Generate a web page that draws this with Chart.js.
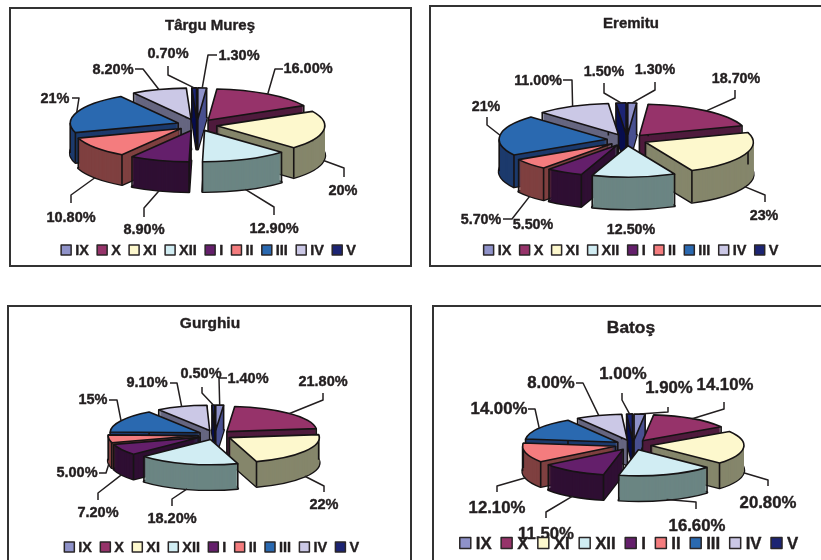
<!DOCTYPE html>
<html>
<head>
<meta charset="utf-8">
<title>Seasonal pies</title>
<script src="https://cdn.jsdelivr.net/npm/chart.js@4/dist/chart.umd.min.js"></script>
<style>
  html, body { margin: 0; background: #fff; overflow: hidden; }
  #page { position: relative; width: 821px; height: 560px; overflow: hidden; }
  canvas { position: absolute; left: 0; top: 0; }
  .frame { position: absolute; box-sizing: border-box; border: 2px solid #333; }
</style>
</head>
<body>
<div id="page">
  <div class="frame" style="left:9px;top:7px;width:403px;height:260px"></div>
  <div class="frame" style="left:429px;top:5px;width:400px;height:262px"></div>
  <div class="frame" style="left:7px;top:305px;width:405px;height:270px"></div>
  <div class="frame" style="left:432px;top:305px;width:400px;height:270px"></div>
  <canvas id="targu" width="821" height="560"></canvas>
  <canvas id="eremitu" width="821" height="560"></canvas>
  <canvas id="gurghiu" width="821" height="560"></canvas>
  <canvas id="batos" width="821" height="560"></canvas>
</div>
<script>
const months = ["IX", "X", "XI", "XII", "I", "II", "III", "IV", "V"];

const targuValues = [1.3, 16, 20, 12.9, 8.9, 10.8, 21, 8.2, 0.7];
const targuLabels = ["1.30%", "16.00%", "20%", "12.90%", "8.90%", "10.80%", "21%", "8.20%", "0.70%"];

const eremituValues = [1.3, 18.7, 23, 12.5, 5.5, 5.7, 21, 11, 1.5];
const eremituLabels = ["1.30%", "18.70%", "23%", "12.50%", "5.50%", "5.70%", "21%", "11.00%", "1.50%"];

const gurghiuValues = [1.4, 21.8, 22, 18.2, 7.2, 5, 15, 9.1, 0.5];
const gurghiuLabels = ["1.40%", "21.80%", "22%", "18.20%", "7.20%", "5.00%", "15%", "9.10%", "0.50%"];

const batosValues = [1.9, 14.1, 20.8, 16.6, 11.5, 12.1, 14, 8, 1];
const batosLabels = ["1.90%", "14.10%", "20.80%", "16.60%", "11.50%", "12.10%", "14.00%", "8.00%", "1.00%"];

const topColors = ["#8f92c9", "#96336a", "#fdf8cd", "#d1edf3", "#641f6b", "#f47c7e", "#2a69b0", "#cbc8e6", "#1c2473"];
const wallColors = ["#4a5190", "#4f1b3d", "#85866b", "#6b8583", "#2f0f33", "#7f4040", "#1c3a6c", "#666680", "#0a1050"];
const ink = "#231f20";
const fontFamily = '"Liberation Sans", Arial, sans-serif';

// where each slice's label goes: [elbowX, elbowY, endX, endY, textX, textY], elbow null = no leader
const targuCallouts = [
  [208, 55, 217, 55, 239, 55], [275, 69, 283, 69, 308, 68], [344, 168, 344, 177, 343, 190],
  [274, 207, 274, 215, 274, 228], [144, 208, 144, 217, 144, 229], [71, 195, 71, 203, 71, 217],
  [79, 98, 72, 98, 55, 98], [143, 69, 135, 69, 113, 69], [168, 75, 168, 66, 168, 53]
];
const eremituCallouts = [
  [655, 90, 655, 82, 655, 69], [735, 98, 735, 90, 736, 78], [765, 195, 765, 202, 764, 215],
  [null, 0, 0, 0, 631, 229], [null, 0, 0, 0, 533, 224], [512, 219, 503, 219, 481, 219],
  [487, 125, 487, 117, 486, 106], [572, 80, 563, 80, 538, 80], [604, 93, 604, 83, 604, 71]
];
const gurghiuCallouts = [
  [219, 378, 227, 378, 248, 378], [323, 400, 323, 393, 323, 381], [324, 486, 324, 492, 324, 504],
  [172, 499, 172, 506, 172, 518], [98, 493, 98, 500, 98, 512], [106, 473, 99, 473, 77, 472],
  [117, 400, 109, 400, 93, 399], [177, 383, 170, 383, 147, 382], [202, 393, 202, 387, 201, 373]
];
const batosCallouts = [
  [668, 412, 668, 407, 669, 387], [724, 409, 724, 402, 725, 384], [768, 480, 768, 486, 768, 502],
  [696, 502, 696, 509, 697, 525], [546, 512, 546, 518, 546, 533], [497, 486, 497, 492, 497, 507],
  [535, 409, 528, 409, 499, 408], [583, 383, 576, 383, 551, 382], [622, 400, 622, 393, 623, 373]
];

function shadedOptions(arc, color) {
  return Object.assign({}, arc.options, { backgroundColor: color, borderWidth: 0 });
}

function sectorPath(ctx, x, y, r, tilt, a0, a1) {
  ctx.beginPath();
  ctx.moveTo(x, y);
  ctx.ellipse(x, y, r, r * tilt, 0, a0, a1);
  ctx.closePath();
}

// a thin stroke on top of the fill makes the small bold text sit heavier
function heavyText(ctx, text, x, y) {
  ctx.save();
  ctx.lineWidth = 0.4;
  ctx.strokeStyle = ctx.fillStyle;
  ctx.strokeText(text, x, y);
  ctx.fillText(text, x, y);
  ctx.restore();
}

// pie drawn lying flat: the library's arcs are squashed and stacked to get thickness
function drawSlice(ctx, arc, i, p) {
  const r = arc.outerRadius;
  const a0 = arc.startAngle, a1 = arc.endAngle, mid = (a0 + a1) / 2;
  const ox = p.cx + p.explode * Math.cos(mid);
  const oy = p.cy + p.explode * p.tilt * Math.sin(mid);
  const own = arc.options;

  const stamp = function(dy) {
    ctx.save();
    ctx.translate(ox, oy + dy);
    ctx.scale(1, p.tilt);
    ctx.translate(-arc.x, -arc.y);
    arc.draw(ctx);
    ctx.restore();
  };

  ctx.lineWidth = 1.6;
  ctx.strokeStyle = "#161314";
  ctx.lineJoin = "round";

  ctx.save();
  ctx.lineWidth = 2.6;
  sectorPath(ctx, ox, oy + p.depth, r, p.tilt, a0, a1);
  ctx.stroke();
  ctx.restore();

  arc.options = shadedOptions(arc, wallColors[i]);
  for (let d = p.depth; d >= 1; d--) stamp(d);
  arc.options = own;

  // vertical edges at the corners and at the widest points of the rim
  const edges = [a0, a1, 2 * Math.PI, Math.PI, 3 * Math.PI].filter(a => a >= a0 && a <= a1);
  ctx.beginPath();
  ctx.moveTo(ox, oy);
  ctx.lineTo(ox, oy + p.depth);
  edges.forEach(a => {
    const ex = ox + r * Math.cos(a), ey = oy + r * p.tilt * Math.sin(a);
    ctx.moveTo(ex, ey);
    ctx.lineTo(ex, ey + p.depth);
  });
  ctx.stroke();

  stamp(0);
  sectorPath(ctx, ox, oy, r, p.tilt, a0, a1);
  ctx.stroke();
}

function drawCallouts(ctx, arcs, p) {
  ctx.lineWidth = 1.5;
  ctx.strokeStyle = ink;
  ctx.fillStyle = ink;
  ctx.font = "bold " + p.labelSize + "px " + fontFamily;
  ctx.textAlign = "center";
  ctx.textBaseline = "middle";
  arcs.forEach((arc, i) => {
    const c = p.callouts[i];
    if (c[0] !== null) {
      const mid = (arc.startAngle + arc.endAngle) / 2;
      const sin = Math.sin(mid);
      const ox = p.cx + p.explode * Math.cos(mid);
      const oy = p.cy + p.explode * p.tilt * sin;
      ctx.beginPath();
      ctx.moveTo(ox + arc.outerRadius * Math.cos(mid),
        oy + arc.outerRadius * p.tilt * sin + (sin > 0.05 ? p.depth : 0));
      ctx.lineTo(c[0], c[1]);
      ctx.lineTo(c[2], c[3]);
      ctx.stroke();
    }
    heavyText(ctx, p.texts[i], c[4], c[5] + 1);
  });
}

function drawLegend(ctx, p) {
  const lg = p.legend;
  ctx.font = "bold " + lg.size + "px " + fontFamily;
  ctx.textAlign = "left";
  ctx.textBaseline = "middle";
  const widths = months.map(m => lg.box + lg.gap + ctx.measureText(m).width);
  const total = widths.reduce((a, b) => a + b, 0) + lg.spacing * (months.length - 1);
  let x = lg.cx - total / 2;
  months.forEach((m, i) => {
    ctx.fillStyle = topColors[i];
    ctx.strokeStyle = "#2a2627";
    ctx.lineWidth = 1.5;
    ctx.fillRect(x, lg.y - lg.box / 2, lg.box, lg.box);
    ctx.strokeRect(x, lg.y - lg.box / 2, lg.box, lg.box);
    ctx.fillStyle = ink;
    heavyText(ctx, m, x + lg.box + lg.gap, lg.y + 1);
    x += widths[i] + lg.spacing;
  });
}

const flatPie = {
  id: "flatPie",
  beforeDatasetDraw(chart) {
    const p = chart.options.plugins.flatPie;
    const ctx = chart.ctx;
    const arcs = chart.getDatasetMeta(0).data;
    const backToFront = arcs.map((arc, i) => [arc, i]).sort((a, b) =>
      Math.sin((a[0].startAngle + a[0].endAngle) / 2) - Math.sin((b[0].startAngle + b[0].endAngle) / 2));
    backToFront.forEach(e => drawSlice(ctx, e[0], e[1], p));
    return false;
  },
  afterDraw(chart) {
    const p = chart.options.plugins.flatPie;
    const ctx = chart.ctx;
    ctx.save();
    drawCallouts(ctx, chart.getDatasetMeta(0).data, p);
    ctx.fillStyle = ink;
    ctx.font = "bold " + p.titleSize + "px " + fontFamily;
    ctx.textAlign = "center";
    ctx.textBaseline = "middle";
    heavyText(ctx, p.title, p.titleX, p.titleY);
    drawLegend(ctx, p);
    ctx.restore();
  }
};

function pie(id, values, settings) {
  new Chart(document.getElementById(id), {
    type: "pie",
    data: {
      labels: months,
      datasets: [{
        data: values,
        backgroundColor: topColors,
        borderWidth: 0,
        radius: settings.radius
      }]
    },
    options: {
      responsive: false,
      animation: false,
      plugins: {
        legend: { display: false },
        tooltip: { enabled: false },
        flatPie: settings
      }
    },
    plugins: [flatPie]
  });
}

pie("targu", targuValues, {
  title: "Târgu Mureş", titleX: 210, titleY: 26, titleSize: 15,
  cx: 197, cy: 125, radius: 108, explode: 20, tilt: 0.29, depth: 30,
  texts: targuLabels, callouts: targuCallouts, labelSize: 14.5,
  legend: { cx: 208.5, y: 250, size: 14.5, box: 10, gap: 4, spacing: 8.3 }
});
pie("eremitu", eremituValues, {
  title: "Eremitu", titleX: 631, titleY: 24, titleSize: 15,
  cx: 627, cy: 140, radius: 108, explode: 20, tilt: 0.29, depth: 32,
  texts: eremituLabels, callouts: eremituCallouts, labelSize: 14.3,
  legend: { cx: 631, y: 250, size: 14.5, box: 10, gap: 4, spacing: 8.3 }
});
pie("gurghiu", gurghiuValues, {
  title: "Gurghiu", titleX: 210, titleY: 324, titleSize: 15.5,
  cx: 215, cy: 435, radius: 90, explode: 17, tilt: 0.28, depth: 25,
  texts: gurghiuLabels, callouts: gurghiuCallouts, labelSize: 14.5,
  legend: { cx: 211.7, y: 547, size: 14.5, box: 10, gap: 4, spacing: 8.3 }
});
pie("batos", batosValues, {
  title: "Batoş", titleX: 631, titleY: 328, titleSize: 17.4,
  cx: 633, cy: 445, radius: 93, explode: 18, tilt: 0.28, depth: 25,
  texts: batosLabels, callouts: batosCallouts, labelSize: 16.8,
  legend: { cx: 629, y: 543, size: 16.8, box: 11, gap: 5, spacing: 9.5 }
});
</script>
</body>
</html>
